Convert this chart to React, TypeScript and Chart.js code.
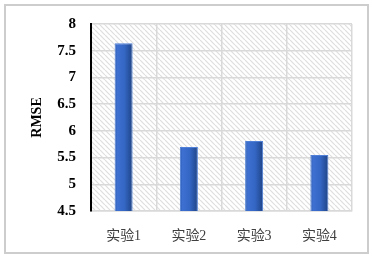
import React, { useEffect, useRef } from "react";
import { Chart, registerables } from "chart.js";

Chart.register(...registerables);

const categories = ["实验1", "实验2", "实验3", "实验4"];
const rmseValues = [7.64, 5.7, 5.81, 5.55];
const yMin = 4.5;
const yMax = 8;
const yStep = 0.5;
const yTitle = "RMSE";

function makeHatch(): CanvasPattern | string {
  const s = 5;
  const c = document.createElement("canvas");
  c.width = s;
  c.height = s;
  const g = c.getContext("2d");
  if (!g) return "#ffffff";
  g.fillStyle = "#ffffff";
  g.fillRect(0, 0, s, s);
  g.strokeStyle = "#dedede";
  g.lineWidth = 1.2;
  for (const off of [-s, 0, s]) {
    g.beginPath();
    g.moveTo(off, 0);
    g.lineTo(off + s, s);
    g.stroke();
  }
  const p = g.createPattern(c, "repeat");
  return p || "#ffffff";
}

const hatchPlugin = {
  id: "hatchBg",
  beforeDraw(chart: any) {
    const { ctx, chartArea } = chart;
    if (!chartArea) return;
    ctx.save();
    ctx.fillStyle = makeHatch();
    ctx.fillRect(chartArea.left, chartArea.top, chartArea.right - chartArea.left, chartArea.bottom - chartArea.top);
    ctx.restore();
  },
};

export default function App() {
  const ref = useRef<HTMLCanvasElement | null>(null);

  useEffect(() => {
    if (!ref.current) return;
    const barPct = 0.276;
    const chart = new Chart(ref.current, {
      type: "bar",
      data: {
        labels: categories,
        datasets: [
          {
            label: yTitle,
            data: rmseValues,
            barPercentage: barPct,
            categoryPercentage: 1,
            borderWidth: 1,
            borderColor: "#4f7fd6",
            borderSkipped: "bottom",
            backgroundColor: (ctx: any) => {
              const ch = ctx.chart;
              const xs = ch.scales && ch.scales.x;
              if (!xs || ctx.dataIndex === undefined) return "#3465c0";
              const cx = xs.getPixelForValue(ctx.dataIndex);
              const w = ((xs.right - xs.left) / categories.length) * barPct;
              if (!isFinite(cx) || !isFinite(w)) return "#3465c0";
              const gr = ch.ctx.createLinearGradient(cx - w / 2, 0, cx + w / 2, 0);
              gr.addColorStop(0, "#2d5bb0");
              gr.addColorStop(0.15, "#3e70d2");
              gr.addColorStop(0.55, "#3466c4");
              gr.addColorStop(1, "#1f4486");
              return gr;
            },
          },
        ],
      },
      options: {
        animation: false,
        responsive: false,
        maintainAspectRatio: false,
        layout: { padding: { left: 0, right: 20, top: 24, bottom: 0 } },
        plugins: {
          legend: { display: false },
          tooltip: { enabled: false },
        },
        scales: {
          x: {
            grid: { color: "#d9d9d9", lineWidth: 1.5, drawTicks: false, offset: true },
            border: { display: true, color: "#d9d9d9", width: 1.5 },
            ticks: {
              color: "#404040",
              padding: 17,
              font: { family: '"Liberation Serif", "Noto Sans CJK SC"', size: 14 },
            },
            afterFit: (s: any) => {
              s.height = 47;
            },
          },
          y: {
            min: yMin,
            max: yMax,
            grid: { color: "#d9d9d9", lineWidth: 1.5, drawTicks: false },
            border: { display: true, color: "#000000", width: 2 },
            ticks: {
              stepSize: yStep,
              color: "#000000",
              padding: 15,
              callback: (v: any) => String(Number(v)),
              font: { family: '"Liberation Serif"', size: 15, weight: "bold" },
            },
            title: {
              display: true,
              text: yTitle,
              color: "#000000",
              padding: { top: 29, bottom: 0 },
              font: { family: '"Liberation Serif"', size: 14, weight: "bold" },
            },
            afterFit: (s: any) => {
              s.width = 91;
            },
          },
        },
      },
      plugins: [hatchPlugin],
    } as any);
    return () => chart.destroy();
  }, []);

  return (
    <div style={{ position: "fixed", left: 0, top: 0, width: 372, height: 258, background: "#ffffff" }}>
      <canvas ref={ref} width={372} height={258} style={{ position: "absolute", left: 0, top: 0, width: 372, height: 258 }} />
      <div
        style={{
          position: "absolute",
          left: 4,
          top: 4,
          width: 365,
          height: 250,
          boxSizing: "border-box",
          border: "2px solid #cdcdcd",
          pointerEvents: "none",
        }}
      />
    </div>
  );
}
